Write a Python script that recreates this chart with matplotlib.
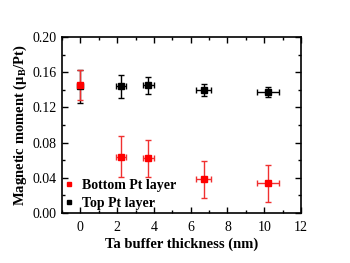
import matplotlib
matplotlib.use("Agg")
import matplotlib.pyplot as plt
from matplotlib.ticker import MultipleLocator

plt.rcParams['font.family'] = ['Liberation Serif', 'DejaVu Serif']
plt.rcParams['mathtext.fontset'] = 'custom'
plt.rcParams['mathtext.rm'] = 'Liberation Serif'
plt.rcParams['mathtext.bf'] = 'Liberation Serif:bold'

# Ta buffer thickness (nm)
top_x = [0.0, 2.2, 3.7, 6.7, 10.2]
top_xerr = [0.0, 0.27, 0.3, 0.4, 0.6]
top_y = [0.144, 0.144, 0.145, 0.140, 0.1375]
top_yerr = [0.019, 0.013, 0.010, 0.007, 0.006]

bot_x = [0.0, 2.2, 3.7, 6.7, 10.2]
bot_xerr = [0.0, 0.27, 0.3, 0.4, 0.6]
bot_y = [0.146, 0.064, 0.062, 0.0386, 0.034]
bot_yerr = [0.017, 0.023, 0.021, 0.021, 0.021]

fig = plt.figure(figsize=(3.5, 2.63), dpi=100)
ax = fig.add_axes([0.177, 0.19, 0.683, 0.669])

ax.errorbar(top_x, top_y, xerr=top_xerr, yerr=top_yerr, fmt='s', color='black',
            ms=4.5, elinewidth=1, capsize=2.5, capthick=1, label='Top Pt layer')
ax.errorbar(bot_x, bot_y, xerr=bot_xerr, yerr=bot_yerr, fmt='s', color='red',
            ecolor='#f03030', ms=4.5, elinewidth=1, capsize=2.5, capthick=1,
            label='Bottom Pt layer')

ax.set_xlim(-1, 12)
ax.set_ylim(0, 0.20)
ax.xaxis.set_major_locator(MultipleLocator(2))
ax.xaxis.set_minor_locator(MultipleLocator(1))
ax.yaxis.set_major_locator(MultipleLocator(0.04))
ax.yaxis.set_minor_locator(MultipleLocator(0.02))
ax.yaxis.set_major_formatter(plt.FormatStrFormatter('%.2f'))
ax.tick_params(which='both', direction='in', top=True, right=True, labelsize=10, width=1)
ax.tick_params(axis='x', pad=6)
ax.tick_params(axis='y', pad=4)
ax.tick_params(which='major', length=4)
ax.tick_params(which='minor', length=2.5)
for s in ax.spines.values():
    s.set_linewidth(1.2)

ax.set_xlabel('Ta buffer thickness (nm)', fontsize=10.5, fontweight='bold', labelpad=2)
ax.set_ylabel(r'Magnetic moment (μ$_\mathbf{B}$/Pt)', fontsize=10.5, fontweight='bold', labelpad=2)

h, l = ax.get_legend_handles_labels()
hh = [hx[0] for hx in h]
leg = ax.legend(hh[::-1], l[::-1], loc='lower left', bbox_to_anchor=(-0.03, -0.035),
                frameon=False, markerscale=0.75,
                handlelength=0.8, handletextpad=0.5, borderaxespad=0.25, labelspacing=0.4,
                prop={'weight': 'bold', 'size': 10})

fig.savefig('out.png', dpi=100)
